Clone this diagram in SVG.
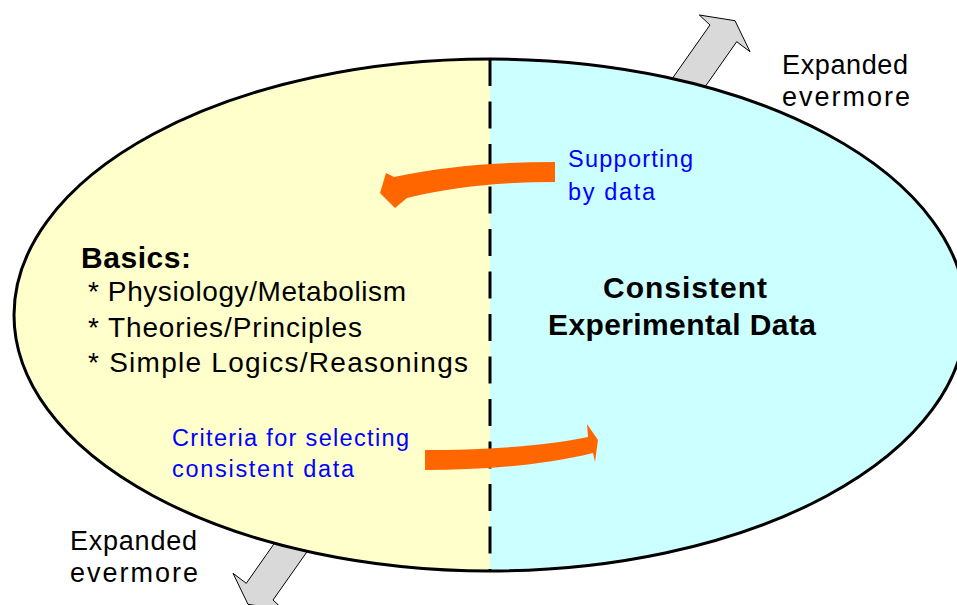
<svg xmlns="http://www.w3.org/2000/svg" width="957" height="605" viewBox="0 0 957 605">
<style>
  .txt { font-family: "Liberation Sans", Arial, sans-serif; fill: #000000; }
  .big { font-size: 30px; font-weight: bold; }
  .item { font-size: 28px; }
  .note { font-size: 23.5px; fill: #0000FF; }
  .exp { font-size: 27px; }
  .grayarrow { fill: #D9D9D9; stroke: #000000; stroke-width: 1; stroke-linejoin: miter; }
  .orange { fill: #FF6600; stroke: none; }
</style>
<rect x="0" y="0" width="957" height="605" fill="#FFFFFF"/>

<g id="expansion-arrows">
  <polygon class="grayarrow" points="667,86 710,25 699.3,15 735,20.7 750,51.7 736.7,41.7 700,94"/>
  <polygon class="grayarrow" points="316,539 273,600 283.7,610 248,604.3 233,573.3 246.3,583.3 283,531"/>
</g>

<g id="node-basics">
  <path d="M490,59 A476,256 0 0 0 490,571 Z" fill="#FFFFCC"/>
  <text class="txt big" x="81" y="268" textLength="110">Basics:</text>
  <text class="txt item" x="88" y="301" textLength="318">* Physiology/Metabolism</text>
  <text class="txt item" x="88" y="337" textLength="274">* Theories/Principles</text>
  <text class="txt item" x="88" y="372" textLength="380">* Simple Logics/Reasonings</text>
</g>

<g id="node-data">
  <path d="M490,59 A476,256 0 0 1 490,571 Z" fill="#CCFFFF"/>
  <text class="txt big" x="685" y="298" text-anchor="middle" textLength="164">Consistent</text>
  <text class="txt big" x="682" y="335" text-anchor="middle" textLength="268">Experimental Data</text>
</g>

<g id="outline">
  <ellipse cx="490" cy="315" rx="476" ry="256" fill="none" stroke="#000000" stroke-width="3"/>
  <line x1="490" y1="59" x2="490" y2="571" stroke="#000000" stroke-width="3" stroke-dasharray="27 15.5"/>
</g>

<g id="connectors">
  <path class="orange" d="M555,162 L555,182 C505,182 455,186 407,198 L395,208 L380,193 L386,173 L394,177 C445,166 500,162 555,162 Z"/>
  <path class="orange" d="M425,450 L425,470 C480,470 540,466 593,453 L595,462 L598,440 L587,424 L588,437 C540,447 480,450 425,450 Z"/>
</g>

<g id="labels">
  <text class="txt note" x="568" y="167" textLength="125">Supporting</text>
  <text class="txt note" x="568" y="200" textLength="87">by data</text>
  <text class="txt note" x="172" y="446" textLength="237">Criteria for selecting</text>
  <text class="txt note" x="172" y="477" textLength="182">consistent data</text>
  <text class="txt exp" x="782" y="74" textLength="126">Expanded</text>
  <text class="txt exp" x="782" y="106" textLength="128">evermore</text>
  <text class="txt exp" x="70" y="550" textLength="127">Expanded</text>
  <text class="txt exp" x="70" y="582" textLength="128">evermore</text>
</g>
</svg>
